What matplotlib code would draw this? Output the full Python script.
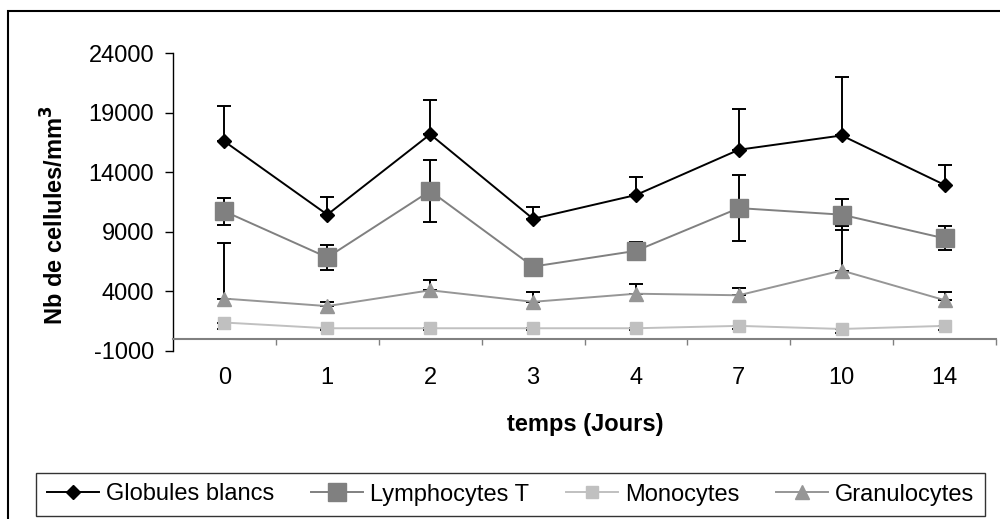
import numpy as np
import matplotlib
matplotlib.use('Agg')
import matplotlib.pyplot as plt
from matplotlib.patches import Rectangle

font = {'family': 'Liberation Sans', 'size': 17}
matplotlib.rc('font', **font)
matplotlib.rcParams['axes.unicode_minus'] = False

## Data (days, mean counts and error bars)
jours = ['0', '1', '2', '3', '4', '7', '10', '14']

globules = [16600, 10450, 17200, 10100, 12100, 15900, 17100, 12950]
globules_err = [3000, 1470, 2850, 970, 1500, 3450, 4950, 1650]

lympho = [10730, 6860, 12440, 6090, 7410, 11000, 10450, 8460]
lympho_err = [1150, 1050, 2600, 300, 780, 2800, 1300, 1000]

mono = [1390, 910, 910, 910, 910, 1110, 850, 1110]
mono_err = [580, 180, 180, 180, 180, 300, 350, 330]

granulo = [3400, 2770, 4100, 3130, 3810, 3680, 5760, 3270]
granulo_err = [4700, 360, 880, 830, 780, 630, 3760, 690]

x = np.arange(len(jours))
zero = np.zeros(len(jours))

fig = plt.figure(figsize=(10, 5.19), dpi=100)
ax = fig.add_axes([0.173, 0.3237, 0.823, 0.5736])

eb = dict(fmt='none', ecolor='black', elinewidth=1.4, capsize=5, capthick=1.4, zorder=2)

# error bars: plus only for globules / granulocytes, minus only for monocytes
ax.errorbar(x, globules, yerr=[zero, globules_err], **eb)
ax.errorbar(x, lympho, yerr=lympho_err, **eb)
ax.errorbar(x, mono, yerr=[mono_err, zero], **eb)
ax.errorbar(x, granulo, yerr=[zero, granulo_err], **eb)

ax.plot(x, globules, '-D', color='black', ms=7, lw=1.4, label='Globules blancs', zorder=3)
ax.plot(x, lympho, '-s', color='#808080', ms=12.5, lw=1.4, label='Lymphocytes T', zorder=3)
ax.plot(x, mono, '-s', color='#C0C0C0', ms=8, lw=1.4, label='Monocytes', zorder=3)
ax.plot(x, granulo, '-^', color='#969696', ms=10, lw=1.4, label='Granulocytes', zorder=3)

ax.set_xlim(-0.5, 7.5)
ax.set_ylim(-1000, 24000)
ax.set_yticks(np.arange(-1000, 24001, 5000))
ax.set_xticks(x)
ax.set_xticklabels(jours)
ax.set_xticks(np.arange(0.5, 8, 1), minor=True)

for s in ['top', 'right']:
    ax.spines[s].set_visible(False)
ax.spines['bottom'].set_position(('data', 0))
ax.spines['bottom'].set_color('#808080')
ax.spines['bottom'].set_linewidth(1.5)
ax.spines['left'].set_color('black')
ax.spines['left'].set_linewidth(1)

ax.tick_params(axis='x', which='major', length=0, pad=20)
ax.tick_params(axis='x', which='minor', length=4.5, width=1, color='#808080')
ax.tick_params(axis='y', length=5.5, width=1, pad=8)

fig.text(0.055, 1 - 215/519, 'Nb de cellules/mm$^{\\mathbf{3}}$', rotation=90,
         ha='center', va='center', fontweight='bold', fontsize=17)
fig.text(0.585, 1 - 425/519, 'temps (Jours)', ha='center', va='center',
         fontweight='bold', fontsize=17)

leg = fig.legend(loc='center', bbox_to_anchor=(0.5105, 1 - 494.5/519), ncol=4,
                 frameon=True, fancybox=False, numpoints=1, handlelength=2.2,
                 columnspacing=1.55, handletextpad=0.3, borderaxespad=0,
                 borderpad=0.45, fontsize=17)
leg.get_frame().set_edgecolor('black')
leg.get_frame().set_linewidth(1)

# outer chart frame
fig.patches.append(Rectangle((0.008, -0.1), 1.2, 1.1 - 11/519, transform=fig.transFigure,
                             fill=False, ec='black', lw=1.5))

fig.savefig('out.png', dpi=100)
